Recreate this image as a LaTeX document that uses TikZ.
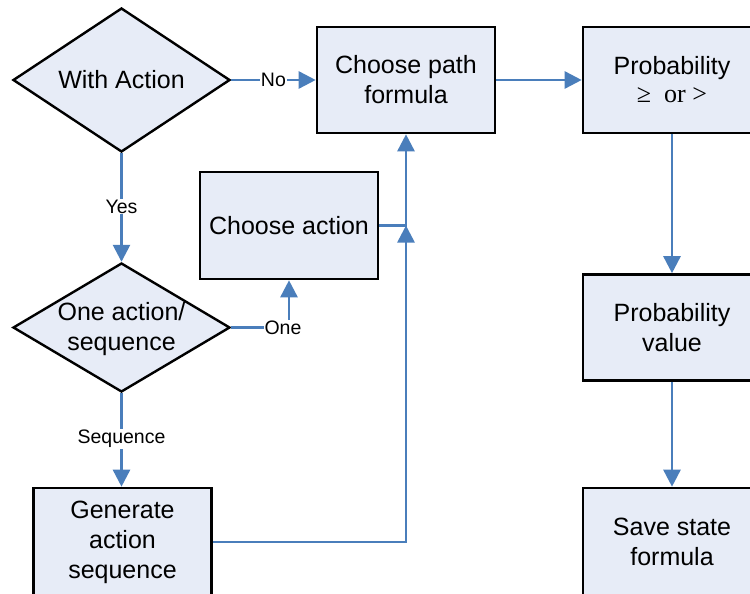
\documentclass[tikz,border=0pt]{standalone}
\usepackage{fontspec}
\setmainfont{Liberation Sans}
\newfontfamily\relfont{Liberation Serif}
\usetikzlibrary{shapes.geometric,arrows.meta}
\definecolor{boxfill}{RGB}{231,236,247}
\definecolor{flow}{RGB}{74,126,187}
\tikzset{
  stepbox/.style={draw=black, line width=2.6pt, fill=boxfill, rectangle,
    minimum width=178pt, minimum height=106pt, inner sep=0pt, align=center,
    font=\fontsize{25}{30}\selectfont},
  decision/.style={draw=black, line width=2.4pt, fill=boxfill, diamond,
    minimum width=217pt, inner sep=0pt},
  inside/.style={align=center, font=\fontsize{25}{30}\selectfont},
  flowline/.style={draw=flow, line width=2.6pt, -{Triangle[length=17pt,width=17pt]}},
  tag/.style={fill=white, inner sep=1pt, font=\fontsize{19.5}{23}\selectfont}
}
\begin{document}
\begin{tikzpicture}[x=1pt,y=-1pt]
\useasboundingbox (0,0) rectangle (750,594);
\clip (0,0) rectangle (750,594);

% decisions: the outline takes its size from the minimum sizes alone,
% the wording sits in a centred label
\node[decision, minimum height=144pt,
      label={[inside]center:With Action}] (wa) at (121.5,80) {};
\node[decision, minimum height=129pt,
      label={[inside, yshift=-1.5pt]center:One action/\\sequence}] (oas) at (121.5,327.5) {};

% process boxes
\node[stepbox] (cpf) at (406,80) {Choose path\\formula};
\node[stepbox] (prob) at (672,80) {Probability\\[-2pt]{\relfont\fontsize{26}{30}\selectfont ≥\ \ or >}};
\node[stepbox, minimum height=107pt] (ca) at (289,225.5) {Choose action};
\node[stepbox] (pv) at (672,327.5) {Probability\\value};
\node[stepbox, minimum height=108pt] (gen) at (122.5,542) {Generate\\action\\sequence};
\node[stepbox, minimum height=108pt] (ssf) at (672,542) {Save state\\formula};

% junction where the two feedback lines meet
\coordinate (j) at (cpf.south |- ca.east);

% connectors
\draw[flowline] (wa.east) -- node[tag] {No} (cpf.west);
\draw[flowline] (wa.south) -- node[tag, pos=0.49] {Yes} (oas.north);
\draw[flowline] (oas.east) -- (oas.east -| ca.south) -- (ca.south);
\node[tag] (one) at ([xshift=-6pt]oas.east -| ca.south) {One};
\draw[flowline] (oas.south) -- node[tag, pos=0.49] {Sequence} (oas.south |- gen.north);
\draw[flowline] (ca.east) -| (cpf.south);
\draw[flowline] (gen.east) -| (j);
\draw[flowline] (cpf.east) -- (prob.west);
\draw[flowline] (prob.south) -- (pv.north);
\draw[flowline] (pv.south) -- (ssf.north);
\end{tikzpicture}
\end{document}
